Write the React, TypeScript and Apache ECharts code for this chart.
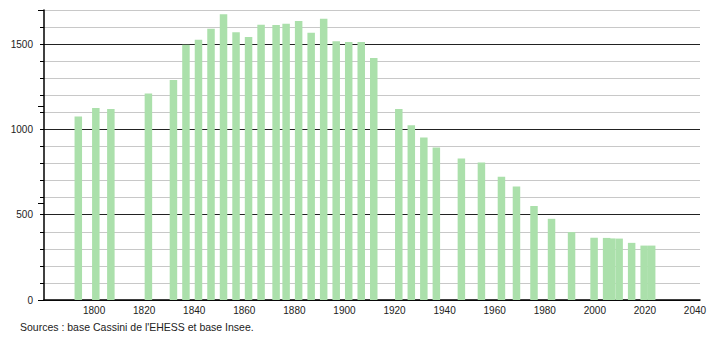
import React, { useEffect, useRef } from "react";
import * as echarts from "echarts";

const years = [1793, 1800, 1806, 1821, 1831, 1836, 1841, 1846, 1851, 1856, 1861, 1866, 1872, 1876, 1881, 1886, 1891, 1896, 1901, 1906, 1911, 1921, 1926, 1931, 1936, 1946, 1954, 1962, 1968, 1975, 1982, 1990, 1999, 2004, 2006, 2009, 2014, 2019, 2022];
const population = [1076, 1125, 1119, 1210, 1290, 1497, 1525, 1590, 1675, 1570, 1541, 1614, 1612, 1620, 1635, 1566, 1649, 1517, 1512, 1512, 1418, 1119, 1025, 952, 894, 829, 806, 723, 665, 551, 476, 398, 365, 364, 361, 360, 335, 319, 319];
const yTickLabels = [0, 500, 1000, 1500];
const sourceText = "Sources : base Cassini de l'EHESS et base Insee.";

const FONT = "'Liberation Sans', Arial, sans-serif";

export default function App() {
  const ref = useRef<HTMLDivElement>(null);
  useEffect(() => {
    document.body.style.margin = "0";
    if (!ref.current) return;
    const chart = echarts.init(ref.current, undefined, { renderer: "svg" });
    const gridColors = ["#222222", "#c8c8c8", "#c8c8c8", "#c8c8c8", "#c8c8c8"];
    chart.setOption({
      animation: false,
      backgroundColor: "#ffffff",
      grid: { left: 44, top: 10, right: 10, bottom: 40, containLabel: false },
      xAxis: [
        {
          type: "value",
          min: 1780,
          max: 2042,
          interval: 20,
          axisLine: { show: true, lineStyle: { color: "#000", width: 1.5 } },
          axisTick: { show: false },
          splitLine: { show: false },
          axisLabel: {
            margin: 5,
            fontFamily: FONT,
            fontSize: 10,
            color: "#222",
            formatter: (v: number) => (v === 1780 ? "" : String(v)),
          },
        },
        {
          type: "value",
          min: 1779.3,
          max: 2041.3,
          show: false,
          position: "bottom",
        },
      ],
      yAxis: [
        {
          type: "value",
          min: 0,
          max: 1700,
          interval: 100,
          axisLine: { show: true, lineStyle: { color: "#000", width: 1.5 } },
          axisTick: { show: true, length: 4, lineStyle: { color: "#000" } },
          splitLine: { show: true, lineStyle: { color: gridColors, width: 1 } },
          axisLabel: {
            margin: 11,
            fontFamily: FONT,
            fontSize: 10,
            color: "#222",
            formatter: (v: number) => (yTickLabels.includes(v) ? String(v) : ""),
          },
        },
        {
          type: "value",
          min: 0,
          max: 1500,
          interval: 500,
          position: "left",
          axisLine: { show: false },
          axisTick: { show: true, length: 6, lineStyle: { color: "#000" } },
          splitLine: { show: false },
          axisLabel: { show: false },
        },
      ],
      series: [
        {
          type: "bar",
          xAxisIndex: 1,
          yAxisIndex: 0,
          barWidth: 7.5,
          itemStyle: { color: "#abe0ab" },
          data: years.map((y, i) => [y, population[i]]),
        },
      ],
      graphic: [
        {
          type: "text",
          left: 20,
          top: 321,
          style: { text: sourceText, fontFamily: FONT, fontSize: 10.5, fill: "#222" },
        },
      ],
    });
    return () => chart.dispose();
  }, []);
  return <div ref={ref} style={{ width: 710, height: 340 }} />;
}
